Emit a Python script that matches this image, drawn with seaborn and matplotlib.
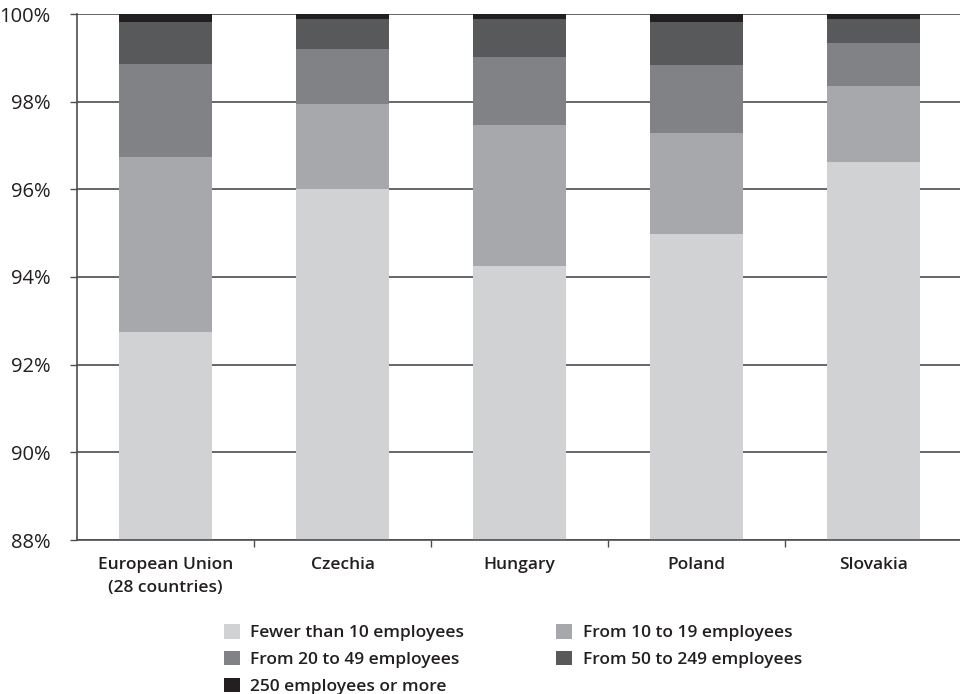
import numpy as np
import pandas as pd
import matplotlib
matplotlib.use("Agg")
import matplotlib.pyplot as plt
import seaborn as sns
from matplotlib.patches import Patch
from matplotlib.ticker import FixedLocator

categories = ["European Union\n(28 countries)", "Czechia", "Hungary", "Poland", "Slovakia"]
series_names = ["Fewer than 10 employees", "From 10 to 19 employees", "From 20 to 49 employees",
                "From 50 to 249 employees", "250 employees or more"]
fewer_10 = [92.74, 96.00, 94.25, 94.98, 96.62]
from_10_19 = [3.99, 1.95, 3.22, 2.30, 1.74]
from_20_49 = [2.13, 1.25, 1.55, 1.56, 0.98]
from_50_249 = [0.96, 0.69, 0.87, 0.98, 0.55]
over_250 = [0.18, 0.11, 0.11, 0.18, 0.11]
y_ticks = [88, 90, 92, 94, 96, 98, 100]

colors = ["#d1d2d4", "#a7a8ac", "#808285", "#58595b", "#231f20"]

sns.set_theme(style="white")
plt.rcParams["font.family"] = ["Open Sans", "DejaVu Sans"]

values = np.array([fewer_10, from_10_19, from_20_49, from_50_249, over_250])
cum = np.cumsum(values, axis=0)
df = pd.DataFrame({"category": categories})
for i, name in enumerate(series_names):
    df[name] = cum[i]

fig = plt.figure(figsize=(9.6, 6.94), dpi=100)
ax = fig.add_axes([77 / 960, 1 - 540 / 694, 885 / 960, (540 - 14) / 694])

for i in range(len(series_names) - 1, -1, -1):
    sns.barplot(data=df, x="category", y=series_names[i], color=colors[i], saturation=1,
                width=0.52, edgecolor="none", linewidth=0, ax=ax, zorder=2)

ax.set_ylim(88, 100)
ax.set_xlim(-0.5, 4.5)
ax.set_yticks(y_ticks)
ax.set_yticklabels([f"{t}%" for t in y_ticks])
ax.yaxis.grid(True, color="#4d4d4f", linewidth=1.2, zorder=0)
ax.set_axisbelow(True)
ax.set_xlabel("")
ax.set_ylabel("")

for s in ["top", "right"]:
    ax.spines[s].set_visible(False)
for s in ["left", "bottom"]:
    ax.spines[s].set_color("#4d4d4f")
    ax.spines[s].set_linewidth(1.2)

ax.tick_params(axis="y", which="major", length=5, width=1, color="#4d4d4f", direction="out",
               labelsize=14.5, labelcolor="#231f20", pad=14, left=True)
ax.tick_params(axis="x", which="major", length=0, labelsize=12.5, labelcolor="#231f20", pad=12)
for lab in ax.get_xticklabels():
    lab.set_fontweight("semibold")
    lab.set_linespacing(1.65)
ax.xaxis.set_minor_locator(FixedLocator([0.5, 1.5, 2.5, 3.5]))
ax.tick_params(axis="x", which="minor", length=5, width=1, color="#4d4d4f", direction="out", bottom=True)

handles = [Patch(facecolor=c, edgecolor="none") for c in colors]
order = [0, 2, 4, 1, 3]
leg = fig.legend([handles[i] for i in order], [series_names[i] for i in order],
                 loc="upper left", bbox_to_anchor=(210 / 960, 1 - 610 / 694), ncol=2,
                 frameon=False, handlelength=0.92, handleheight=0.92, handletextpad=0.6,
                 columnspacing=5.3, labelspacing=0.55, borderpad=0.3,
                 prop={"size": 12.5, "weight": "semibold"})
for t in leg.get_texts():
    t.set_color("#231f20")

fig.savefig("out.png", dpi=100)
